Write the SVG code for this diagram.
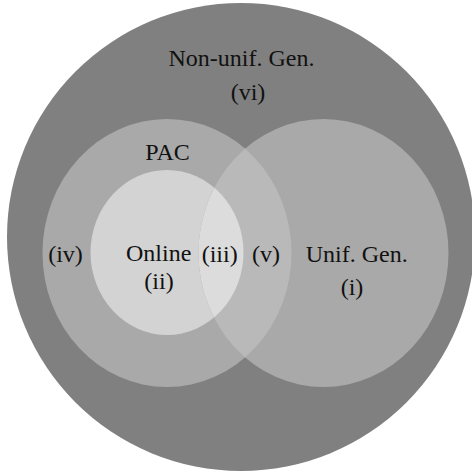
<svg xmlns="http://www.w3.org/2000/svg" width="472" height="476" viewBox="0 0 472 476">
  <style>
    text { font-family: "Liberation Serif", "Times New Roman", serif; font-size: 24px; fill: #111; text-anchor: middle; }
  </style>
  <defs>
    <clipPath id="clipPac"><ellipse cx="167" cy="253" rx="124.5" ry="134"/></clipPath>
    <clipPath id="clipOnline"><ellipse cx="167" cy="252.5" rx="76.5" ry="82.5"/></clipPath>
  </defs>
  <rect width="472" height="476" fill="#ffffff"/>
  <g id="nonunif-gen">
    <circle cx="241" cy="237" r="234" fill="#808080"/>
    <text x="241.5" y="66">Non-unif. Gen.</text>
    <text x="248" y="99.5">(vi)</text>
  </g>
  <g id="pac">
    <ellipse cx="167" cy="253" rx="124.5" ry="134" fill="#a9a9a9"/>
    <text x="167.5" y="159.5">PAC</text>
    <text x="65.5" y="261.5">(iv)</text>
  </g>
  <g id="online">
    <ellipse cx="167" cy="252.5" rx="76.5" ry="82.5" fill="#d3d3d3"/>
  </g>
  <g id="unif-gen">
    <ellipse cx="323.5" cy="253" rx="125" ry="134" fill="#a9a9a9"/>
  </g>
  <g id="overlaps">
    <ellipse cx="323.5" cy="253" rx="125" ry="134" fill="#b9b9b9" clip-path="url(#clipPac)"/>
    <ellipse cx="323.5" cy="253" rx="125" ry="134" fill="#dcdcdc" clip-path="url(#clipOnline)"/>
  </g>
  <g id="labels">
    <text x="158.7" y="261">Online</text>
    <text x="159" y="289">(ii)</text>
    <text x="219.7" y="261.5">(iii)</text>
    <text x="266" y="261.5">(v)</text>
    <text x="356.7" y="262">Unif. Gen.</text>
    <text x="352" y="295">(i)</text>
  </g>
</svg>
